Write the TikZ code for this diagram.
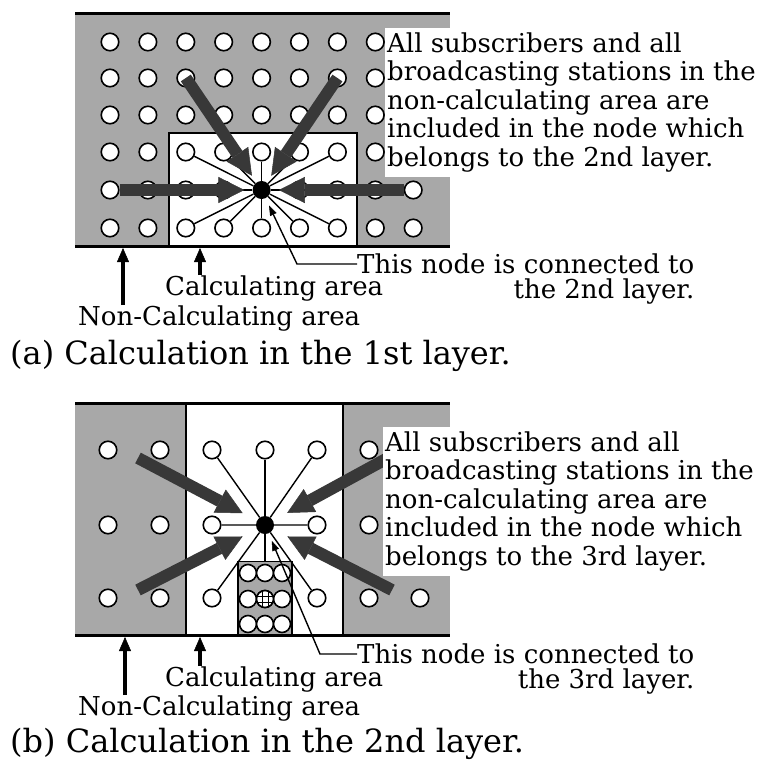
\documentclass[tikz,border=0pt]{standalone}
\usepackage{fontspec}
\setmainfont{DejaVu Serif}
\usetikzlibrary{arrows.meta}
\definecolor{ncshade}{gray}{0.66}
\definecolor{bigarrow}{gray}{0.22}

\tikzset{
  stn/.style={circle, draw, line width=1.6pt, fill=white, minimum size=17.5pt, inner sep=0pt},
  gridstn/.style={stn, path picture={
      \foreach \d in {-3,3} {
        \draw[line width=0.9pt] ([xshift=\d pt]path picture bounding box.north) -- ([xshift=\d pt]path picture bounding box.south);
        \draw[line width=0.9pt] ([yshift=\d pt]path picture bounding box.west) -- ([yshift=\d pt]path picture bounding box.east);
      }}},
  hub/.style={circle, fill=black, minimum size=18pt, inner sep=0pt},
  spoke/.style={line width=1.4pt},
  bigarr/.style={draw=bigarrow, line width=12pt, -{Triangle[width=26pt, length=26pt, line width=0.5pt]}},
  ptr/.style={line width=1.4pt, -{Triangle[width=7pt, length=10pt, line width=0.5pt]}},
  uparr/.style={line width=3.5pt, -{Triangle[width=12pt, length=14pt, line width=0.5pt]}},
  txt/.style={font=\fontsize{26}{28.5}\selectfont, inner sep=0pt},
  captxt/.style={font=\fontsize{32}{36}\selectfont, inner sep=0pt},
}

\begin{document}
\begin{tikzpicture}[x=1pt, y=-1pt]
  \useasboundingbox (0,0) rectangle (766,763);
  \def\dx{37.9}

  % (a) calculation in the 1st layer
  \fill[ncshade] (75,13) rectangle (450,246);
  \fill[white] (169,133) rectangle (357,246);
  \draw[line width=1.4pt] (169,246) -- (169,133) -- (357,133) -- (357,246);
  \draw[line width=3pt] (75,13) -- (450,13);
  \draw[line width=3pt] (75,246) -- (450,246);

  \foreach \r/\y in {1/42,2/78,3/115,4/152}
    \foreach \c in {0,...,7}
      \node[stn] (a-\r-\c) at (110+\dx*\c,\y) {};
  \foreach \c in {0,1,2,3,5,6,7,8}
    \node[stn] (a-5-\c) at (110+\dx*\c,190) {};
  \foreach \c in {0,...,8}
    \node[stn] (a-6-\c) at (110+\dx*\c,228) {};
  \node[hub] (hubA) at (110+\dx*4,190) {};

  \foreach \r in {4,6}
    \foreach \c in {2,...,6}
      \draw[spoke] (hubA) -- (a-\r-\c);
  \foreach \c in {2,3,5,6}
    \draw[spoke] (hubA) -- (a-5-\c);

  \draw[bigarr, shorten >=8pt] (a-2-2.center) -- (hubA);
  \draw[bigarr, shorten >=8pt] (a-2-6.center) -- (hubA);
  \draw[bigarr, shorten >=8pt] (a-5-0) -- (hubA);
  \draw[bigarr, shorten >=8pt] (a-5-8) -- (hubA);

  \node[txt, fill=white, anchor=north west, align=left, inner xsep=2pt, inner ysep=4.5pt] (noteA) at (385,28)
    {All subscribers and all\\broadcasting stations in the\\non-calculating area are\\included in the node which\\belongs to the 2nd layer.};

  \node[txt, anchor=west] (connA) at (357,264) {This node is connected to};
  \node[txt, anchor=north east] (layA) at ([yshift=-4pt]connA.south east) {the 2nd layer.};
  \coordinate (bendA) at (297,264);
  \draw[ptr, shorten >=8pt] (connA.west) -- (bendA) -- (hubA);

  \node[txt, anchor=base west] (calcA) at (165,295) {Calculating area};
  \node[txt, anchor=base west] (noncA) at (78,325) {Non-Calculating area};
  \coordinate (calcTipA) at (200,248);
  \coordinate (noncTipA) at (123,248);
  \draw[uparr] (calcTipA |- calcA.north) -- (calcTipA);
  \draw[uparr] (noncTipA |- noncA.north) -- (noncTipA);

  \node[captxt, anchor=base west] (capA) at (10,364) {(a) Calculation in the 1st layer.};

  % (b) calculation in the 2nd layer
  \fill[ncshade] (75,403) rectangle (450,635);
  \fill[white] (186,403) rectangle (343,635);
  \draw[line width=1.4pt] (186,403) -- (186,635);
  \draw[line width=1.4pt] (343,403) -- (343,635);
  \draw[line width=3pt] (75,403) -- (450,403);
  \draw[line width=3pt] (75,635) -- (450,635);

  \foreach \c/\x in {0/108,1/160,2/212,3/265,4/317,5/369}
    \node[stn] (b-1-\c) at (\x,450) {};
  \foreach \c/\x in {0/108,1/160,2/212,4/317,5/369}
    \node[stn] (b-2-\c) at (\x,525) {};
  \foreach \c/\x in {0/108,1/160,2/212,4/317,5/369,6/420}
    \node[stn] (b-3-\c) at (\x,598) {};
  \node[hub] (hubB) at (265,525) {};

  % 2nd layer node holding the 1st layer
  \node[draw, line width=1.4pt, fill=ncshade, minimum width=54pt, minimum height=73pt, inner sep=0pt, anchor=south] (subB) at (265,635) {};
  \foreach \r/\y in {1/573,2/599,3/624}
    \foreach \c/\x in {1/248,2/265,3/282}
      \node[stn, minimum size=17pt] (s-\r-\c) at (\x,\y) {};
  \node[gridstn, minimum size=17pt] (s-2-2) at (265,599) {};

  \foreach \c in {2,3,4}
    \draw[spoke] (hubB) -- (b-1-\c);
  \foreach \c in {2,4}
    \draw[spoke] (hubB) -- (b-2-\c) (hubB) -- (b-3-\c);
  \draw[spoke] (hubB) -- (subB);

  \coordinate (tailB1) at (138,458);
  \coordinate (tailB2) at (386,459);
  \coordinate (tailB3) at (138,590);
  \coordinate (tailB4) at (392,590);
  \foreach \t in {1,...,4}
    \draw[bigarr, shorten >=16pt] (tailB\t) -- (hubB);

  \node[txt, fill=white, anchor=north west, align=left, inner xsep=2pt, inner ysep=4.5pt] (noteB) at (383,427)
    {All subscribers and all\\broadcasting stations in the\\non-calculating area are\\included in the node which\\belongs to the 3rd layer.};

  \node[txt, anchor=west] (connB) at (357,654) {This node is connected to};
  \node[txt, anchor=north east] (layB) at ([yshift=-4pt]connB.south east) {the 3rd layer.};
  \coordinate (bendB) at (320,654);
  \draw[ptr, shorten >=8pt] (connB.west) -- (bendB) -- (hubB);

  \node[txt, anchor=base west] (calcB) at (165,686) {Calculating area};
  \node[txt, anchor=base west] (noncB) at (78,715) {Non-Calculating area};
  \coordinate (calcTipB) at (200,637);
  \coordinate (noncTipB) at (125,637);
  \draw[uparr] (calcTipB |- calcB.north) -- (calcTipB);
  \draw[uparr] (noncTipB |- noncB.north) -- (noncTipB);

  \node[captxt, anchor=base west] (capB) at (10,752) {(b) Calculation in the 2nd layer.};
\end{tikzpicture}
\end{document}
